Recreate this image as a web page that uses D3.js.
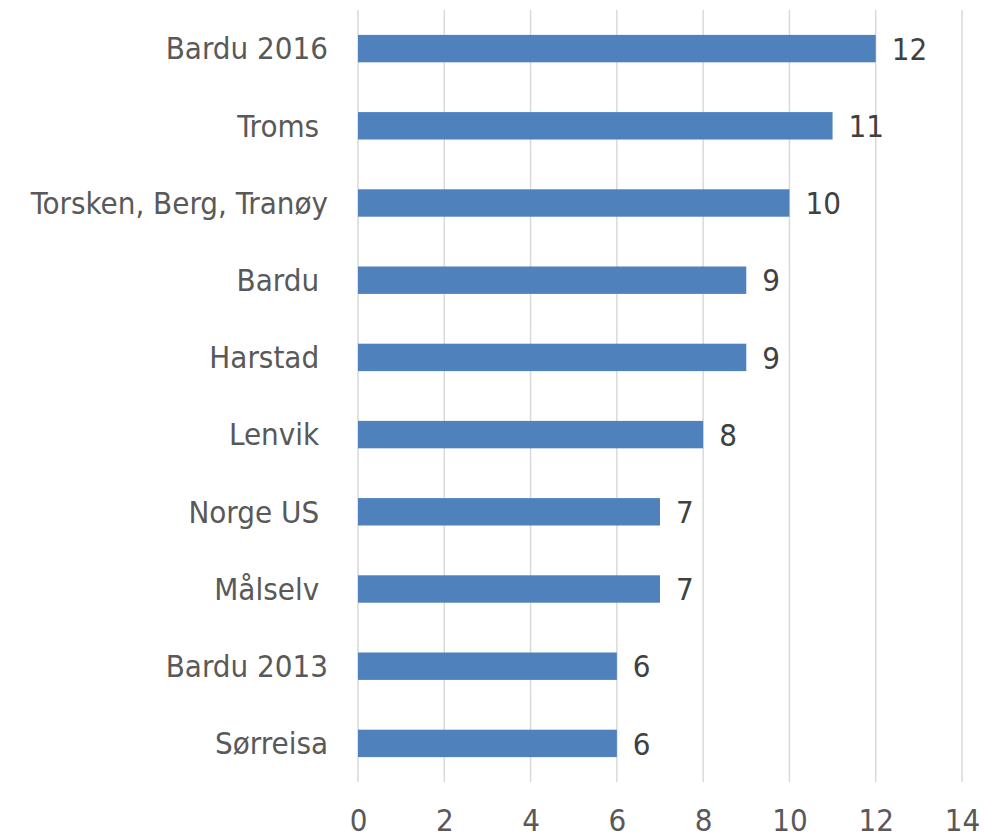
<!DOCTYPE html>
<html>
<head>
<meta charset="utf-8">
<script src="https://cdn.jsdelivr.net/npm/d3@7"></script>
<style>
  body { margin: 0; background: #fff; }
  text { font-family: "DejaVu Sans Condensed", "DejaVu Sans", sans-serif; font-stretch: condensed; }
</style>
</head>
<body>
<div id="chart"></div>
<script>
// data, top to bottom (trailing spaces are part of the original labels)
const categories = ["Bardu 2016", "Troms ", "Torsken, Berg, Tranøy", "Bardu ", "Harstad ",
                    "Lenvik ", "Norge US ", "Målselv ", "Bardu 2013", "Sørreisa"];
const values = [12, 11, 10, 9, 9, 8, 7, 7, 6, 6];
const xTicks = [0, 2, 4, 6, 8, 10, 12, 14];

const width = 984, height = 838;
const margin = {top: 10, right: 22, bottom: 56, left: 358};

const svg = d3.select("#chart").append("svg")
    .attr("width", width)
    .attr("height", height);

const x = d3.scaleLinear()
    .domain([0, 14])
    .range([margin.left, width - margin.right]);

const y = d3.scaleBand()
    .domain(categories)
    .range([margin.top, height - margin.bottom])
    .paddingInner(0.645)
    .paddingOuter(0.3225);

// vertical gridlines
svg.append("g")
    .selectAll("line")
    .data(xTicks)
    .join("line")
    .attr("x1", d => x(d))
    .attr("x2", d => x(d))
    .attr("y1", margin.top)
    .attr("y2", height - margin.bottom)
    .attr("stroke", "#d9d9d9")
    .attr("stroke-width", 1.5);

// x axis labels
const xAxis = svg.append("g")
    .attr("transform", `translate(0, ${height - margin.bottom})`)
    .call(d3.axisBottom(x).tickValues(xTicks).tickSize(0).tickPadding(27));
xAxis.select(".domain").remove();
xAxis.selectAll("text")
    .attr("font-size", 31)
    .attr("fill", "#595959")
    .style("font-family", "'DejaVu Sans Condensed', 'DejaVu Sans', sans-serif");

// y axis labels
const yAxis = svg.append("g")
    .attr("transform", `translate(${margin.left}, 0)`)
    .call(d3.axisLeft(y).tickSize(0).tickPadding(30));
yAxis.select(".domain").remove();
yAxis.selectAll("text")
    .attr("font-size", 31)
    .attr("fill", "#595959")
    .attr("dy", "0.35em")
    .style("white-space", "pre")
    .style("font-family", "'DejaVu Sans Condensed', 'DejaVu Sans', sans-serif");

// bars
svg.append("g")
    .selectAll("rect")
    .data(values)
    .join("rect")
    .attr("x", x(0))
    .attr("y", (d, i) => y(categories[i]))
    .attr("width", d => x(d) - x(0))
    .attr("height", y.bandwidth())
    .attr("fill", "#4f81bd");

// value labels
svg.append("g")
    .selectAll("text")
    .data(values)
    .join("text")
    .attr("x", d => x(d) + 16)
    .attr("y", (d, i) => y(categories[i]) + y.bandwidth() / 2)
    .attr("dy", "0.36em")
    .attr("font-size", 31)
    .attr("fill", "#404040")
    .text(d => d);
</script>
</body>
</html>
